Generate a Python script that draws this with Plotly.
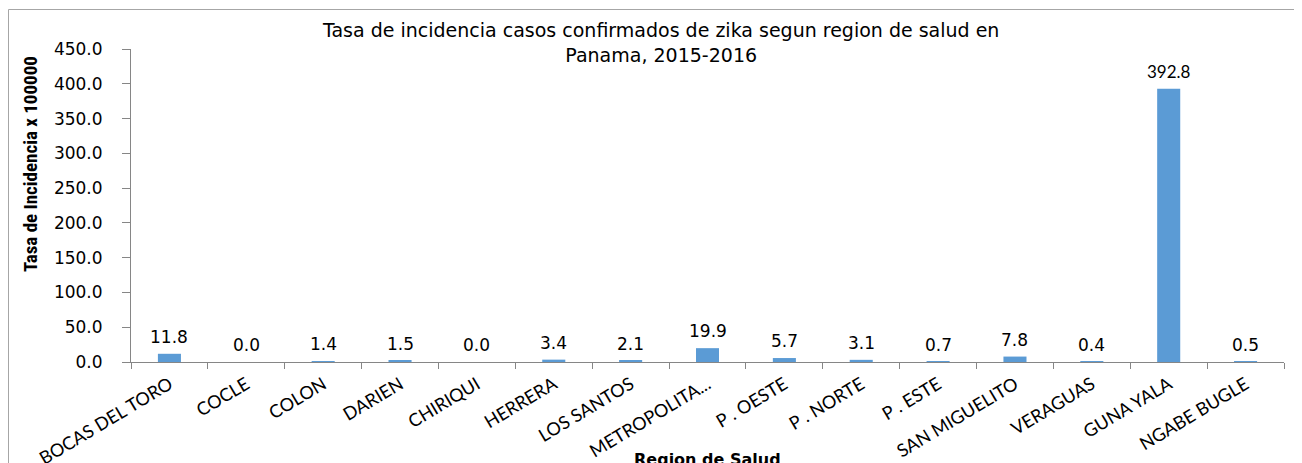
import plotly.graph_objects as go

categories = ["BOCAS DEL TORO", "COCLE", "COLON", "DARIEN", "CHIRIQUI", "HERRERA",
              "LOS SANTOS", "METROPOLITA...", "P . OESTE", "P . NORTE", "P . ESTE",
              "SAN MIGUELITO", "VERAGUAS", "GUNA YALA", "NGABE BUGLE"]
values = [11.8, 0.0, 1.4, 1.5, 0.0, 3.4, 2.1, 19.9, 5.7, 3.1, 0.7, 7.8, 0.4, 392.8, 0.5]
y_ticks = [0, 50, 100, 150, 200, 250, 300, 350, 400, 450]

title_text = "Tasa de incidencia casos confirmados de zika segun region de salud en<br>Panama, 2015-2016"
y_title = "Tasa de Incidencia x 100000"
x_title = "Region de Salud"

OFF = 8  # page body margin
SW, SH = 1302, 463  # screen size
W, H = SW - OFF, SH - OFF
# plot area in screen pixels
SX0, SX1, SY0, SY1 = 131, 1284, 49, 362
L, R, T, B = SX0 - OFF, W - (SX1 - OFF), SY0 - OFF, H - (SY1 - OFF)
pw, ph = W - L - R, H - T - B

def px_x(p):  # screen x -> paper
    return (p - OFF - L) / pw

def px_y(p):  # screen y -> paper
    return (H - B - (p - OFF)) / ph

fig = go.Figure()
fig.add_trace(go.Bar(
    x=categories, y=values,
    marker=dict(color="#5B9BD5", line=dict(width=0)),
    width=0.3,
    hoverinfo="x+y",
))

annotations = []
for c, v in zip(categories, values):
    big = v > 100
    annotations.append(dict(
        x=c, y=v, xref="x", yref="y", text=f"{v:.1f}", showarrow=False,
        yanchor="middle", yshift=17,
        font=dict(family="Lato" if big else "DejaVu Sans", size=17, color="#000000"),
    ))

annotations.append(dict(
    x=px_x(30), y=px_y(164), xref="paper", yref="paper", text=f"<b>{y_title}</b>",
    showarrow=False, textangle=-90, xanchor="center", yanchor="middle",
    font=dict(family="Liberation Sans Narrow, Roboto Condensed, Liberation Sans", size=19, color="#000000"),
))
annotations.append(dict(
    x=px_x(707), y=px_y(459), xref="paper", yref="paper", text=f"<b>{x_title}</b>",
    showarrow=False, xanchor="center", yanchor="middle",
    font=dict(family="DejaVu Sans", size=16, color="#000000"),
))
annotations.append(dict(
    x=px_x(660), y=px_y(42), xref="paper", yref="paper", text=title_text,
    showarrow=False, xanchor="center", yanchor="middle",
    font=dict(family="DejaVu Sans", size=19, color="#000000"),
))

fig.update_layout(
    width=W, height=H, autosize=False,
    margin=dict(l=L, r=R, t=T, b=B, pad=0),
    paper_bgcolor="white", plot_bgcolor="white",
    showlegend=False,
    bargap=0.7,
    annotations=annotations,
    shapes=[dict(type="rect", xref="paper", yref="paper",
                 x0=px_x(8.5), x1=px_x(1330), y0=px_y(490), y1=px_y(9.5),
                 line=dict(color="#A6A6A6", width=1), fillcolor="rgba(0,0,0,0)", layer="below")],
    xaxis=dict(
        type="category", tickson="boundaries", ticks="outside", ticklen=6,
        tickcolor="#868686", showline=True, linecolor="#868686", linewidth=1,
        showgrid=False, tickangle=-31, ticklabelstandoff=4,
        tickfont=dict(family="Lato", size=18, color="#000000"),
        automargin=False,
    ),
    yaxis=dict(
        range=[0, 450], tickvals=y_ticks, tickformat=".1f", ticks="outside", ticklen=8,
        tickcolor="#868686", showline=True, linecolor="#868686", linewidth=1,
        showgrid=False, zeroline=False, ticklabelstandoff=16,
        tickfont=dict(family="DejaVu Sans", size=17, color="#000000"),
        automargin=False,
    ),
)

fig.write_html("out.html")
